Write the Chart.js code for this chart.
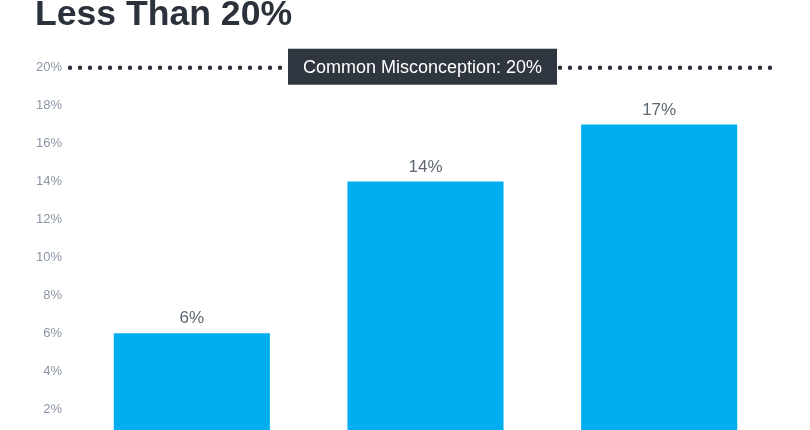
<!DOCTYPE html>
<html>
<head>
<meta charset="utf-8">
<script src="https://cdn.jsdelivr.net/npm/chart.js@4/dist/chart.umd.min.js"></script>
<style>
  html, body { margin: 0; padding: 0; background: #ffffff; overflow: hidden; width: 810px; height: 430px; }
  #wrap { position: absolute; left: 0; top: -19px; width: 810px; height: 490px; }
</style>
</head>
<body>
<div id="wrap"><canvas id="c" width="810" height="490"></canvas></div>
<script>
const titleText = 'Less Than 20%';
const categories = ['Group 1', 'Group 2', 'Group 3'];
const values = [6, 14, 17];
const yTicks = [0, 2, 4, 6, 8, 10, 12, 14, 16, 18, 20];
const referenceValue = 20;
const referenceLabel = 'Common Misconception: 20%';

const FONT = '"Liberation Sans", Arial, Helvetica, sans-serif';

const overlay = {
  id: 'overlay',
  afterDatasetsDraw(chart) {
    const ctx = chart.ctx;
    const area = chart.chartArea;
    const y = chart.scales.y;
    const meta = chart.getDatasetMeta(0);
    ctx.save();
    // value labels
    ctx.font = '17px ' + FONT;
    ctx.fillStyle = '#5d6775';
    ctx.textAlign = 'center';
    ctx.textBaseline = 'bottom';
    meta.data.forEach((bar, i) => {
      ctx.fillText(values[i] + '%', bar.x, bar.y - 6);
    });
    // dotted reference line
    const ry = y.getPixelForValue(referenceValue);
    ctx.strokeStyle = '#29303a';
    ctx.lineWidth = 4.4;
    ctx.lineCap = 'round';
    ctx.setLineDash([0, 10]);
    ctx.beginPath();
    ctx.moveTo(area.left - 5, ry);
    ctx.lineTo(area.right - 3, ry);
    ctx.stroke();
    ctx.setLineDash([]);
    // label box
    const cx = (area.left + area.right) / 2 - 3;
    const bw = 269, bh = 36;
    ctx.fillStyle = '#30363f';
    ctx.fillRect(cx - bw / 2, ry - bh / 2 - 1, bw, bh);
    ctx.font = '18px ' + FONT;
    ctx.fillStyle = '#ffffff';
    ctx.textAlign = 'center';
    ctx.textBaseline = 'middle';
    ctx.fillText(referenceLabel, cx, ry);
    ctx.restore();
  }
};

new Chart(document.getElementById('c'), {
  type: 'bar',
  data: {
    labels: categories,
    datasets: [{
      data: values,
      backgroundColor: '#00aeef',
      borderWidth: 0,
      categoryPercentage: 1,
      barPercentage: 0.668
    }]
  },
  options: {
    responsive: false,
    animation: false,
    devicePixelRatio: 1,
    layout: { padding: { left: 35, right: 34, top: 0, bottom: 24 } },
    plugins: {
      legend: { display: false },
      tooltip: { enabled: false },
      title: {
        display: true,
        text: titleText,
        align: 'start',
        color: '#2b323b',
        font: { family: FONT, size: 35.6, weight: 'bold' },
        padding: { top: 13, bottom: 31 }
      }
    },
    scales: {
      x: { display: false },
      y: {
        min: 0,
        max: 20,
        afterBuildTicks: (s) => { s.ticks = yTicks.map(v => ({ value: v })); },
        afterFit: (s) => { s.width = 40; },
        grid: { display: false, drawTicks: false },
        border: { display: false },
        ticks: {
          padding: 13,
          color: '#8a95a5',
          font: { family: FONT, size: 13 },
          callback: (v) => v + '%'
        }
      }
    }
  },
  plugins: [overlay]
});
</script>
</body>
</html>
